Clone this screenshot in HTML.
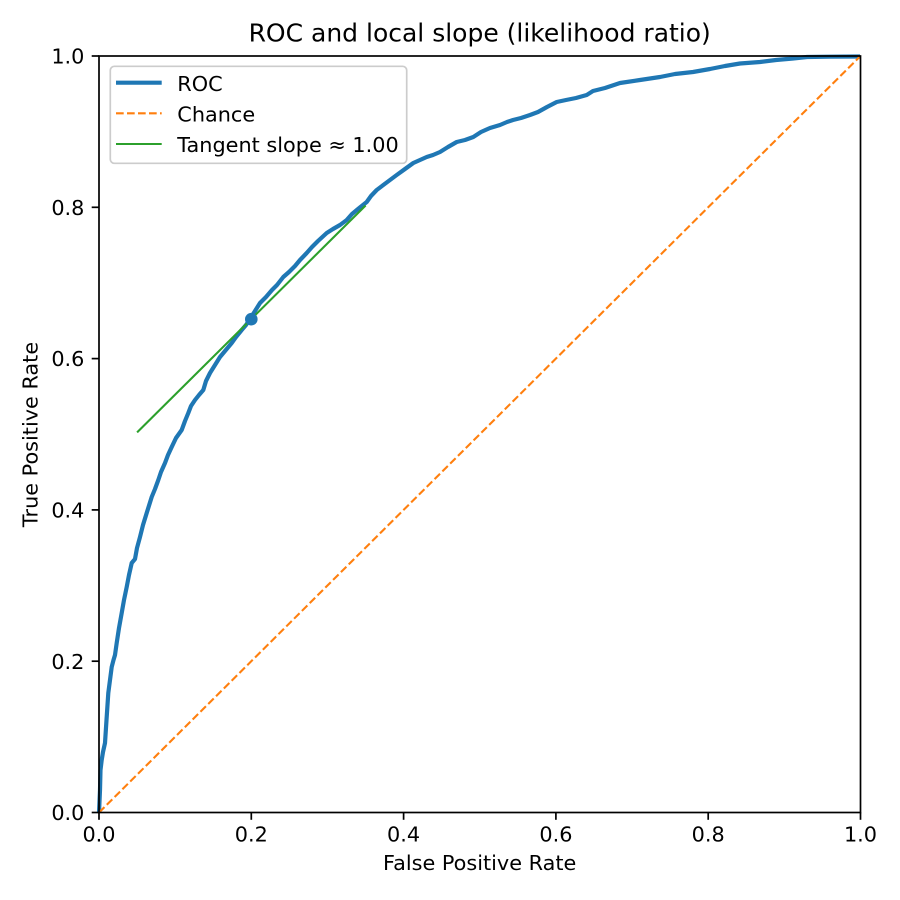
<!DOCTYPE html>
<html>
<head>
<meta charset="utf-8">
<style>
  html, body { margin:0; padding:0; background:#ffffff; }
  svg { display:block; }
  text { font-family: "DejaVu Sans", "Liberation Sans", sans-serif; fill:#000; }
</style>
</head>
<body>
<svg width="900" height="900" viewBox="0 0 900 900" xmlns="http://www.w3.org/2000/svg">
  <rect x="0" y="0" width="900" height="900" fill="#ffffff"/>

  <!-- ROC curve -->
  <polyline fill="none" stroke="#1f77b4" stroke-width="4.2" stroke-linejoin="round" stroke-linecap="butt"
    points="99,812.5 100,790 100.5,770 101.7,760 103,752 105,743 106.5,720 108.3,693 111.7,667 113.5,660 115,655 116.7,643 119,628 121.7,613 124,600 126.7,587 129,575 131.7,563 135,559 137,548 140,537 143,525 146.7,513 151.7,497 155,489 158.3,480 161,472 165,463 168,455 171.7,447 176,438 181.7,430 185,421 188.3,413 191,406 195,400 199,395 203.3,390 206,381 210,373 215,365 220,357 225,351 231.7,343 236,337 241.7,330 246,325 250,319 255,311 260,303 266,297 272,290 277,285 283.3,277 289,272 295,266 300,260 306.7,253 312,247 318,241 326.7,233 333,229 340,225 346.7,220 352,214 358,209 366.7,202 371,196 376.7,190 382,186 390,180 396.7,175 405,169 413.3,163 420,160 426.7,157 433,155 440,152 448,147 456.7,142 465,140 473.3,137 481,132 490,128 500,125 507,122 513,120 521,118 530,115 538,112 547,107 556.7,102 566,100 576,98 586.7,95 593,91 605,88 620,83 640,80 660,77 675,74 693,72 710,69 725,66 740,63.5 760,62 776,60 793,58.5 807,57 830,56.7 860,56.5"/>

  <!-- Chance diagonal -->
  <line x1="99" y1="812.5" x2="860.5" y2="56" stroke="#ff7f0e" stroke-width="2.1" stroke-dasharray="7.7,3.3"/>

  <!-- Tangent line -->
  <line x1="137.1" y1="432.4" x2="365.6" y2="205.5" stroke="#2ca02c" stroke-width="2.1"/>

  <!-- Operating point -->
  <circle cx="251.3" cy="319.2" r="6.3" fill="#1f77b4"/>

  <!-- Axes spines -->
  <rect x="99" y="56" width="761.5" height="756.5" fill="none" stroke="#000" stroke-width="1.7"/>

  <!-- X ticks -->
  <g stroke="#000" stroke-width="1.7">
    <line x1="99" y1="812.5" x2="99" y2="819.8"/>
    <line x1="251.3" y1="812.5" x2="251.3" y2="819.8"/>
    <line x1="403.6" y1="812.5" x2="403.6" y2="819.8"/>
    <line x1="555.9" y1="812.5" x2="555.9" y2="819.8"/>
    <line x1="708.2" y1="812.5" x2="708.2" y2="819.8"/>
    <line x1="860.5" y1="812.5" x2="860.5" y2="819.8"/>
  </g>
  <g font-size="20.8" text-anchor="middle">
    <text x="99" y="841.7">0.0</text>
    <text x="251.3" y="841.7">0.2</text>
    <text x="403.6" y="841.7">0.4</text>
    <text x="555.9" y="841.7">0.6</text>
    <text x="708.2" y="841.7">0.8</text>
    <text x="860.5" y="841.7">1.0</text>
  </g>

  <!-- Y ticks -->
  <g stroke="#000" stroke-width="1.7">
    <line x1="91.7" y1="812.5" x2="99" y2="812.5"/>
    <line x1="91.7" y1="661.2" x2="99" y2="661.2"/>
    <line x1="91.7" y1="509.9" x2="99" y2="509.9"/>
    <line x1="91.7" y1="358.6" x2="99" y2="358.6"/>
    <line x1="91.7" y1="207.3" x2="99" y2="207.3"/>
    <line x1="91.7" y1="56" x2="99" y2="56"/>
  </g>
  <g font-size="20.8" text-anchor="end">
    <text x="84.4" y="820.1">0.0</text>
    <text x="84.4" y="668.8">0.2</text>
    <text x="84.4" y="517.5">0.4</text>
    <text x="84.4" y="366.2">0.6</text>
    <text x="84.4" y="214.9">0.8</text>
    <text x="84.4" y="63.6">1.0</text>
  </g>

  <!-- Axis labels -->
  <text x="479.7" y="870" font-size="20.8" text-anchor="middle">False Positive Rate</text>
  <text transform="translate(37.5,434.5) rotate(-90)" font-size="20.8" text-anchor="middle">True Positive Rate</text>

  <!-- Title -->
  <text x="479.7" y="41.7" font-size="25" text-anchor="middle">ROC and local slope (likelihood ratio)</text>

  <!-- Legend -->
  <rect x="110.3" y="66.3" width="296.4" height="97" rx="4" ry="4" fill="#ffffff" fill-opacity="0.8" stroke="#cccccc" stroke-width="1.7"/>
  <line x1="116" y1="82.7" x2="161.7" y2="82.7" stroke="#1f77b4" stroke-width="4.2"/>
  <text x="177.3" y="91" font-size="20.8">ROC</text>
  <line x1="116" y1="113.3" x2="161.7" y2="113.3" stroke="#ff7f0e" stroke-width="2.1" stroke-dasharray="7.7,3.3"/>
  <text x="177.3" y="121.6" font-size="20.8">Chance</text>
  <line x1="116" y1="144" x2="161.7" y2="144" stroke="#2ca02c" stroke-width="2.1"/>
  <text x="177.3" y="152.2" font-size="20.8">Tangent slope ≈ 1.00</text>
</svg>
</body>
</html>
